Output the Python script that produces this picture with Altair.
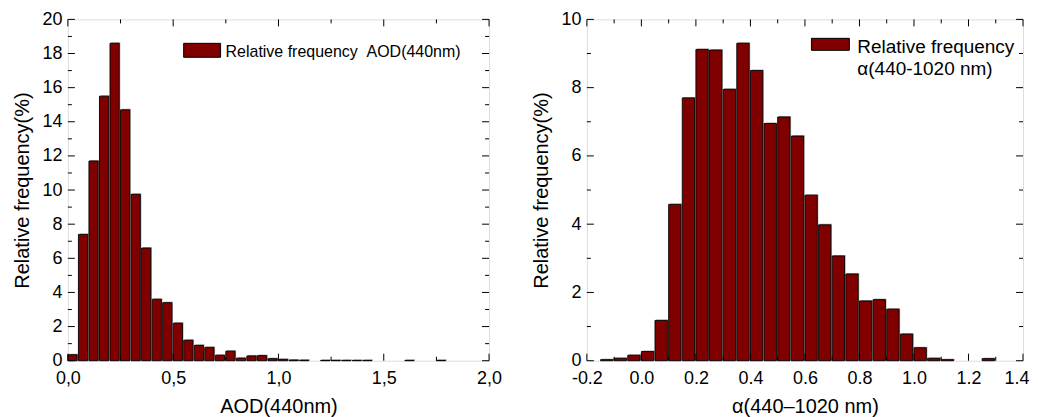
import altair as alt
import pandas as pd

# ---------------- data ----------------
BIN_WIDTH = 0.05

aod_bin_start = [0.00, 0.05, 0.10, 0.15, 0.20, 0.25, 0.30, 0.35, 0.40, 0.45,
                 0.50, 0.55, 0.60, 0.65, 0.70, 0.75, 0.80, 0.85, 0.90, 0.95,
                 1.00, 1.05, 1.10, 1.20, 1.25, 1.30, 1.35, 1.40, 1.60, 1.75]
aod_freq = [0.35, 7.4, 11.7, 15.5, 18.6, 14.7, 9.75, 6.6, 3.6, 3.4,
            2.2, 1.2, 0.9, 0.78, 0.32, 0.56, 0.15, 0.28, 0.3, 0.12,
            0.08, 0.04, 0.03, 0.02, 0.02, 0.02, 0.02, 0.02, 0.02, 0.02]

alpha_bin_start = [-0.15, -0.10, -0.05, 0.00, 0.05, 0.10, 0.15, 0.20, 0.25, 0.30,
                   0.35, 0.40, 0.45, 0.50, 0.55, 0.60, 0.65, 0.70, 0.75, 0.80,
                   0.85, 0.90, 0.95, 1.00, 1.05, 1.10, 1.25]
alpha_freq = [0.03, 0.07, 0.16, 0.27, 1.18, 4.58, 7.7, 9.12, 9.1, 7.95,
              9.3, 8.5, 6.95, 7.14, 6.58, 4.85, 3.98, 3.07, 2.54, 1.75,
              1.79, 1.51, 0.78, 0.38, 0.07, 0.03, 0.06]

left_legend = ["Relative frequency\u00a0\u00a0AOD(440nm)"]
right_legend = ["Relative frequency\nα(440-1020 nm)"]
left_xtitle = "AOD(440nm)"
right_xtitle = "α(440–1020 nm)"
ytitle = "Relative frequency(%)"

left_x_major = [0.0, 0.5, 1.0, 1.5, 2.0]
left_x_minor = [0.25, 0.75, 1.25, 1.75]
left_y_major = [0, 2, 4, 6, 8, 10, 12, 14, 16, 18, 20]
left_y_minor = [1, 3, 5, 7, 9, 11, 13, 15, 17, 19]

right_x_major = [-0.2, 0.0, 0.2, 0.4, 0.6, 0.8, 1.0, 1.2, 1.4]
right_x_minor = [-0.1, 0.1, 0.3, 0.5, 0.7, 0.9, 1.1, 1.3]
right_y_major = [0, 2, 4, 6, 8, 10]
right_y_minor = [1, 3, 5, 7, 9]

# ---------------- style ----------------
FONT = "Liberation Sans"
BAR_FILL = "#800000"
W_L, W_R, H = 422, 437, 342
MAJ, MIN = 7, 4


def panel(starts, freqs, xdom, ydom, xmaj, xmin, ymaj, ymin, width, xtitle,
          label_expr, legend_text, legend_box, legend_xy, legend_font, legend_lh,
          last_label_right=False):
    df = pd.DataFrame({"start": starts, "freq": freqs})
    df["end"] = df["start"] + BIN_WIDTH

    xscale = alt.Scale(domain=xdom, nice=False, zero=False, padding=0)
    yscale = alt.Scale(domain=ydom, nice=False, padding=0)
    xmax = xdom[1]
    xaxis_kw = dict(values=xmaj, labelExpr=label_expr, ticks=False, domain=False,
                    grid=False, labelFontSize=18, titleFontSize=20, labelPadding=9,
                    titlePadding=9, labelFont=FONT, titleFont=FONT,
                    titleFontWeight="normal", labelColor="black", titleColor="black",
                    labelFlush=False)
    if last_label_right:
        xaxis_kw["labelAlign"] = {"condition": {"test": f"datum.value >= {xmax} - 1e-9",
                                                "value": "right"}, "value": "center"}
        xaxis_kw["labelOffset"] = {"condition": {"test": f"datum.value >= {xmax} - 1e-9",
                                                 "value": 6}, "value": 0}
    xaxis = alt.Axis(**xaxis_kw)
    yaxis = alt.Axis(values=ymaj, format="d", ticks=False, domain=False, grid=False,
                     labelFontSize=18, titleFontSize=20, labelPadding=6,
                     titlePadding=9, labelFont=FONT, titleFont=FONT,
                     titleFontWeight="normal", labelColor="black", titleColor="black")

    def X(field, **kw):
        return alt.X(field, type="quantitative", scale=xscale, axis=xaxis, title=xtitle, **kw)

    def Y(field, **kw):
        return alt.Y(field, type="quantitative", scale=yscale, axis=yaxis, title=ytitle, **kw)

    base = alt.Chart(df)
    shadow = base.mark_bar(fill="#a8a8a8", xOffset=1.2, x2Offset=-0.2,
                           yOffset=-1, orient="vertical").encode(
        x=X("start"), x2="end", y=Y("freq"), y2=alt.datum(0))
    bars = base.mark_bar(fill=BAR_FILL, stroke="black", strokeWidth=0.9,
                         x2Offset=-1.3, orient="vertical").encode(
        x=X("start"), x2="end", y=Y("freq"), y2=alt.datum(0))

    layers = [shadow, bars]

    def hticks(vals, length):
        d = alt.Chart(pd.DataFrame({"v": vals}))
        return [
            d.mark_rule(color="black", strokeWidth=1).encode(
                x=X("v"), y=alt.value(H), y2=alt.value(H - length)),
            d.mark_rule(color="black", strokeWidth=1).encode(
                x=X("v"), y=alt.value(0), y2=alt.value(length)),
        ]

    def vticks(vals, length):
        d = alt.Chart(pd.DataFrame({"v": vals}))
        return [
            d.mark_rule(color="black", strokeWidth=1).encode(
                y=Y("v"), x=alt.value(0), x2=alt.value(length)),
            d.mark_rule(color="black", strokeWidth=1).encode(
                y=Y("v"), x=alt.value(width), x2=alt.value(width - length)),
        ]

    layers += hticks(xmaj, MAJ) + hticks(xmin, MIN) + vticks(ymaj, MAJ) + vticks(ymin, MIN)

    lx0, lx1, ly0, ly1 = legend_box
    leg_df = pd.DataFrame({"label": legend_text})
    sw = alt.Chart(leg_df).mark_rect(fill=BAR_FILL, stroke="black", strokeWidth=1).encode(
        x=alt.value(lx0), x2=alt.value(lx1), y=alt.value(ly0), y2=alt.value(ly1))
    tx = alt.Chart(leg_df).mark_text(align="left", baseline="alphabetic", font=FONT,
                                     fontSize=legend_font, color="black", lineBreak="\n",
                                     lineHeight=legend_lh).encode(
        x=alt.value(legend_xy[0]), y=alt.value(legend_xy[1]), text="label:N")
    layers += [sw, tx]

    return alt.layer(*layers).properties(width=width, height=H)


left = panel(aod_bin_start, aod_freq, [0, 2], [0, 20], left_x_major, left_x_minor,
             left_y_major, left_y_minor, W_L, left_xtitle,
             "replace(format(datum.value, '.1f'), '.', ',')",
             left_legend, (116, 153, 24, 38), (158, 37.5), 16, 19)

right = panel(alpha_bin_start, alpha_freq, [-0.2, 1.4], [0, 10], right_x_major, right_x_minor,
              right_y_major, right_y_minor, W_R, right_xtitle,
              "replace(format(datum.value, '.1f'), '\u2212', '-')",
              right_legend, (225, 263, 19, 31), (271, 33.5), 19, 22,
              last_label_right=True)

chart = alt.hconcat(left, right, spacing=98, bounds="flush").properties(
    padding={"left": 4, "top": 1, "right": 0, "bottom": 0}
).configure_view(stroke="black", strokeWidth=1).configure(background="white")

chart.save("out.html", embed_options={"renderer": "svg", "actions": False})
